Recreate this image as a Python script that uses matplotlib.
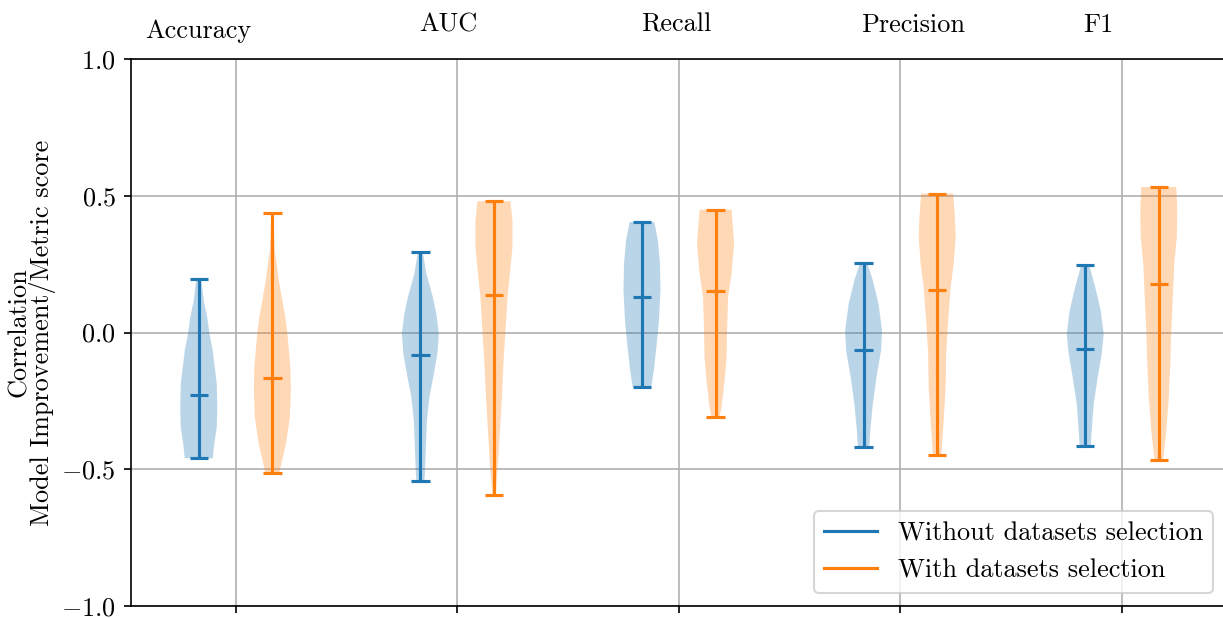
import numpy as np
import matplotlib
matplotlib.use("Agg")
import matplotlib.pyplot as plt
from matplotlib.lines import Line2D

plt.rcParams['font.family'] = ['cmr10', 'DejaVu Serif']
plt.rcParams['mathtext.fontset'] = 'cm'
plt.rcParams['axes.formatter.use_mathtext'] = True
plt.rcParams['font.size'] = 12.6

metrics = ["Accuracy", "AUC", "Recall", "Precision", "F1"]
series_labels = ["Without datasets selection", "With datasets selection"]

# Without datasets selection: extrema and means
without_min = [-0.460, -0.542, -0.200, -0.420, -0.416]
without_max = [0.194, 0.294, 0.404, 0.254, 0.247]
without_mean = [-0.227, -0.081, 0.128, -0.065, -0.062]
# With datasets selection
with_min = [-0.512, -0.593, -0.310, -0.447, -0.465]
with_max = [0.436, 0.480, 0.449, 0.508, 0.532]
with_mean = [-0.166, 0.138, 0.153, 0.154, 0.177]

# Density profiles (correlation level, relative density)
without_dens_y = [
    [-0.460, -0.407, -0.347, -0.274, -0.188, -0.127, -0.066, 0.0, 0.056, 0.117, 0.194],
    [-0.542, -0.518, -0.420, -0.322, -0.237, -0.151, -0.078, -0.005, 0.068, 0.129, 0.215, 0.294],
    [-0.200, -0.139, -0.054, 0.044, 0.154, 0.251, 0.337, 0.404],
    [-0.420, -0.359, -0.261, -0.164, -0.066, 0.007, 0.105, 0.190, 0.254],
    [-0.416, -0.359, -0.261, -0.164, -0.078, -0.005, 0.081, 0.166, 0.247],
]
without_dens_v = [
    [28, 31, 36, 37, 36, 32, 28, 21, 17, 10, 5],
    [8, 9, 11, 13, 18, 27, 34, 37, 32, 25, 12, 5],
    [18, 23, 28, 33, 36, 35, 31, 24],
    [11, 13, 18, 25, 34, 36, 29, 18, 7],
    [11, 13, 17, 25, 33, 37, 31, 20, 8],
]
with_dens_y = [
    [-0.512, -0.480, -0.410, -0.310, -0.210, -0.127, 0.0, 0.056, 0.180, 0.300, 0.436],
    [-0.593, -0.579, -0.481, -0.359, -0.237, -0.115, 0.007, 0.129, 0.215, 0.3125, 0.410, 0.480],
    [-0.310, -0.273, -0.176, -0.090, 0.007, 0.129, 0.215, 0.325, 0.449],
    [-0.447, -0.432, -0.322, -0.200, -0.078, 0.044, 0.166, 0.251, 0.349, 0.435, 0.508],
    [-0.465, -0.444, -0.359, -0.237, -0.115, 0.007, 0.129, 0.251, 0.349, 0.447, 0.532],
]
with_dens_v = [
    [14, 18, 27, 35, 37, 36, 30, 26, 14, 5, 2],
    [3, 4, 8, 12, 16, 19, 23, 27, 32, 37, 37, 33],
    [8, 12, 18, 22, 23, 25, 32, 37, 32],
    [8, 9, 13, 17, 18, 22, 27, 33, 37, 35, 32],
    [8, 10, 15, 20, 23, 25, 28, 31, 36, 37, 35],
]

colors = ["#1f77b4", "#ff7f0e"]

fig = plt.figure(figsize=(1223 / 150, 618 / 150), dpi=150)
ax = fig.add_axes([130.5 / 1223, 1 - 606 / 618, (1226.5 - 130.5) / 1223, (606 - 59) / 618])

groups = np.arange(1, len(metrics) + 1)
offset = 0.166
vwidth = 0.167

series = [
    (without_min, without_max, without_mean, without_dens_y, without_dens_v),
    (with_min, with_max, with_mean, with_dens_y, with_dens_v),
]

for si, (mins, maxs, means, dy, dv) in enumerate(series):
    stats = []
    for i in range(len(metrics)):
        stats.append(dict(coords=np.array(dy[i], dtype=float),
                          vals=np.array(dv[i], dtype=float),
                          mean=means[i], median=means[i],
                          min=mins[i], max=maxs[i]))
    pos = groups + (offset if si == 1 else -offset)
    parts = ax.violin(stats, positions=pos, widths=vwidth,
                      showmeans=True, showextrema=True, showmedians=False)
    for b in parts['bodies']:
        b.set_facecolor(colors[si])
        b.set_edgecolor('none')
        b.set_alpha(0.3)
    for key in ('cbars', 'cmins', 'cmaxes', 'cmeans'):
        if key in parts:
            parts[key].set_color(colors[si])
            parts[key].set_linewidth(1.5)

ax.set_xlim(0.526, 5.4716)
ax.set_ylim(-1.0, 1.0)
ax.set_xticks(groups)
ax.set_xticklabels([])
ax.set_yticks([-1.0, -0.5, 0.0, 0.5, 1.0])
ax.grid(True)
ax.set_axisbelow(True)
ax.set_ylabel("Correlation\nModel Improvement/Metric score", linespacing=0.9)
ax.yaxis.set_label_coords(-0.068, 0.5)

label_x = [0.831, 1.959, 2.988, 4.058, 4.892]
label_y = [1.039, 1.050, 1.050, 1.050, 1.050]
for name, lx, ly in zip(metrics, label_x, label_y):
    ax.text(lx, ly, name, transform=ax.get_xaxis_transform(),
            ha='center', va='baseline', clip_on=False)

handles = [Line2D([], [], color=c, lw=1.5) for c in colors]
ax.legend(handles, series_labels, loc='lower right')

fig.savefig("out.png", dpi=150)
